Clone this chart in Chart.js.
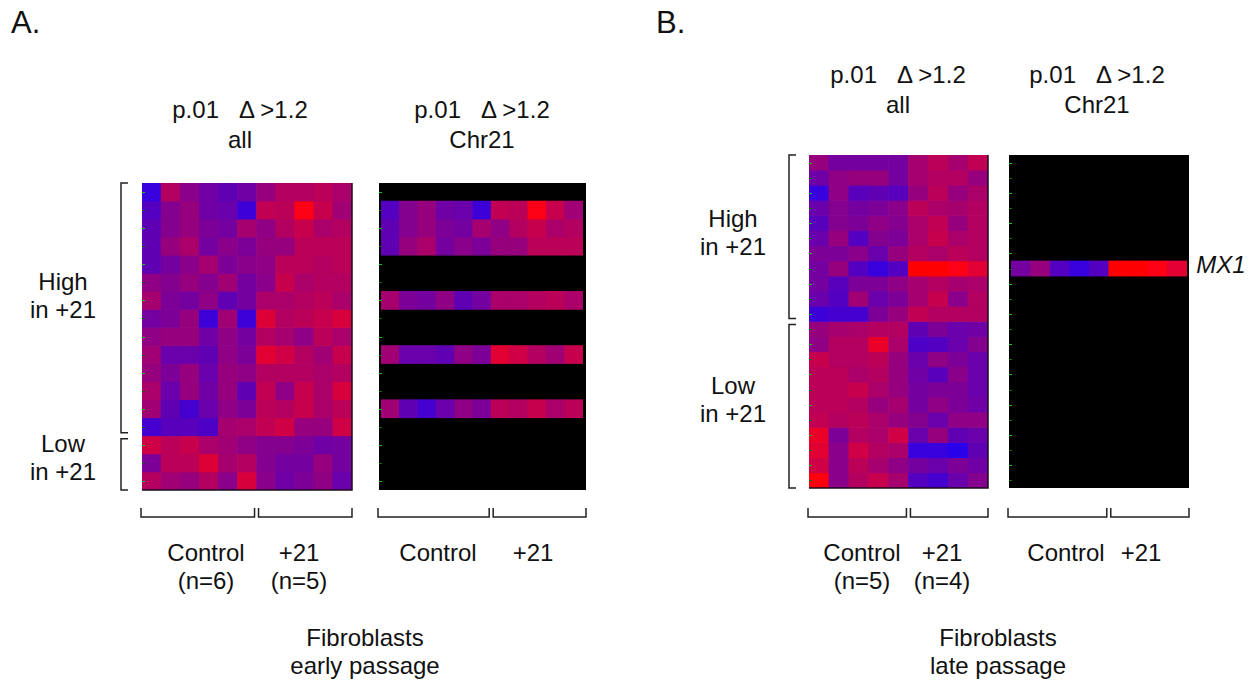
<!DOCTYPE html>
<html>
<head>
<meta charset="utf-8">
<script src="https://cdn.jsdelivr.net/npm/chart.js@4.4.1/dist/chart.umd.min.js"></script>
<style>
  body { margin: 0; background: #fff; }
  #page { position: relative; width: 1258px; height: 685px; overflow: hidden; font-family: "Liberation Sans", Arial, sans-serif; color: #111; }
  canvas { position: absolute; }
  .t { position: absolute; font-size: 24px; line-height: 30px; text-align: center; transform: translateX(-50%); white-space: pre; }
  .g { line-height: 28px; }
  .big { font-size: 31px; line-height: 34px; transform: none; }
</style>
</head>
<body>
<div id="page">
  <div class="t big" style="left:11px;top:6px">A.</div>
  <div class="t big" style="left:656px;top:6px">B.</div>

  <div class="t" style="left:240px;top:95px">p.01   Δ >1.2<br>all</div>
  <div class="t" style="left:482px;top:95px">p.01   Δ >1.2<br>Chr21</div>
  <div class="t" style="left:898px;top:60px">p.01   Δ >1.2<br>all</div>
  <div class="t" style="left:1097px;top:60px">p.01   Δ >1.2<br>Chr21</div>

  <div class="t g" style="left:63px;top:268px">High<br>in +21</div>
  <div class="t g" style="left:63px;top:430px">Low<br>in +21</div>
  <div class="t g" style="left:733px;top:205px">High<br>in +21</div>
  <div class="t g" style="left:733px;top:372px">Low<br>in +21</div>

  <div class="t g" style="left:206px;top:539px">Control<br>(n=6)</div>
  <div class="t g" style="left:299px;top:539px">+21<br>(n=5)</div>
  <div class="t g" style="left:438px;top:539px">Control</div>
  <div class="t g" style="left:533px;top:539px">+21</div>
  <div class="t g" style="left:862px;top:539px">Control<br>(n=5)</div>
  <div class="t g" style="left:942px;top:539px">+21<br>(n=4)</div>
  <div class="t g" style="left:1066px;top:539px">Control</div>
  <div class="t g" style="left:1141px;top:539px">+21</div>

  <div class="t g" style="left:365px;top:624px">Fibroblasts<br>early passage</div>
  <div class="t g" style="left:998px;top:624px">Fibroblasts<br>late passage</div>

  <div class="t" style="left:1221px;top:250px;font-style:italic">MX1</div>

  <canvas id="a1" width="265" height="360" style="left:100px;top:170px"></canvas>
  <canvas id="a2" width="235" height="360" style="left:365px;top:170px"></canvas>
  <canvas id="b1" width="230" height="390" style="left:770px;top:140px"></canvas>
  <canvas id="b2" width="205" height="390" style="left:995px;top:140px"></canvas>
</div>

<script>
// expression score per gene (row) and sample (column): 0 = lowest (blue), 1 = highest (red)
const earlyCols = ['C1', 'C2', 'C3', 'C4', 'C5', 'C6', 'T1', 'T2', 'T3', 'T4', 'T5'];
const earlyControls = 6;
const earlyHighRows = 14;
const earlyRows = [
    [0.20, 0.65, 0.50, 0.40, 0.35, 0.40, 0.55, 0.65, 0.65, 0.68, 0.62],
    [0.30, 0.48, 0.55, 0.40, 0.38, 0.22, 0.70, 0.68, 0.92, 0.72, 0.58],
    [0.35, 0.48, 0.55, 0.45, 0.42, 0.60, 0.52, 0.65, 0.72, 0.62, 0.65],
    [0.35, 0.55, 0.62, 0.42, 0.50, 0.45, 0.55, 0.55, 0.68, 0.68, 0.68],
    [0.35, 0.42, 0.50, 0.60, 0.45, 0.50, 0.52, 0.68, 0.68, 0.65, 0.68],
    [0.52, 0.48, 0.55, 0.48, 0.58, 0.42, 0.50, 0.72, 0.62, 0.65, 0.65],
    [0.60, 0.45, 0.42, 0.52, 0.35, 0.42, 0.62, 0.62, 0.65, 0.68, 0.62],
    [0.42, 0.45, 0.55, 0.22, 0.58, 0.22, 0.80, 0.65, 0.68, 0.72, 0.78],
    [0.52, 0.55, 0.55, 0.40, 0.52, 0.42, 0.65, 0.60, 0.52, 0.68, 0.62],
    [0.58, 0.38, 0.38, 0.35, 0.52, 0.45, 0.82, 0.75, 0.65, 0.58, 0.72],
    [0.55, 0.45, 0.55, 0.38, 0.55, 0.52, 0.65, 0.65, 0.65, 0.62, 0.65],
    [0.62, 0.38, 0.55, 0.40, 0.55, 0.35, 0.70, 0.52, 0.72, 0.62, 0.78],
    [0.58, 0.35, 0.25, 0.38, 0.52, 0.45, 0.68, 0.65, 0.72, 0.62, 0.68],
    [0.25, 0.32, 0.32, 0.28, 0.60, 0.62, 0.70, 0.75, 0.55, 0.55, 0.75],
    [0.75, 0.68, 0.72, 0.62, 0.58, 0.52, 0.48, 0.48, 0.45, 0.40, 0.42],
    [0.45, 0.68, 0.68, 0.80, 0.60, 0.65, 0.48, 0.42, 0.42, 0.55, 0.42],
    [0.65, 0.58, 0.55, 0.65, 0.50, 0.78, 0.50, 0.40, 0.45, 0.52, 0.38]
];
// rows of the early passage list that sit on chromosome 21
const earlyChr21 = [1, 2, 3, 6, 9, 12];

const lateCols = ['C1', 'C2', 'C3', 'C4', 'C5', 'T1', 'T2', 'T3', 'T4'];
const lateControls = 5;
const lateHighRows = 11;
const lateRows = [
    [0.55, 0.42, 0.42, 0.42, 0.42, 0.60, 0.68, 0.60, 0.70],
    [0.40, 0.52, 0.55, 0.55, 0.42, 0.60, 0.65, 0.65, 0.55],
    [0.20, 0.52, 0.32, 0.35, 0.32, 0.55, 0.68, 0.55, 0.62],
    [0.38, 0.48, 0.42, 0.45, 0.50, 0.68, 0.62, 0.60, 0.65],
    [0.32, 0.48, 0.45, 0.52, 0.48, 0.62, 0.70, 0.55, 0.65],
    [0.38, 0.55, 0.30, 0.48, 0.45, 0.62, 0.72, 0.62, 0.65],
    [0.45, 0.45, 0.50, 0.38, 0.55, 0.65, 0.62, 0.68, 0.65],
    [0.42, 0.55, 0.30, 0.20, 0.30, 1.00, 1.00, 0.92, 0.82],
    [0.42, 0.32, 0.45, 0.45, 0.52, 0.60, 0.65, 0.60, 0.62],
    [0.38, 0.30, 0.58, 0.38, 0.45, 0.60, 0.72, 0.50, 0.65],
    [0.22, 0.25, 0.25, 0.45, 0.55, 0.70, 0.65, 0.65, 0.65],
    [0.55, 0.60, 0.62, 0.65, 0.65, 0.35, 0.45, 0.38, 0.40],
    [0.52, 0.65, 0.65, 0.85, 0.62, 0.28, 0.30, 0.38, 0.48],
    [0.72, 0.65, 0.65, 0.68, 0.55, 0.38, 0.52, 0.45, 0.38],
    [0.68, 0.68, 0.62, 0.65, 0.55, 0.40, 0.32, 0.50, 0.38],
    [0.68, 0.68, 0.72, 0.62, 0.55, 0.42, 0.45, 0.45, 0.38],
    [0.68, 0.68, 0.65, 0.55, 0.60, 0.42, 0.52, 0.45, 0.40],
    [0.70, 0.65, 0.68, 0.62, 0.55, 0.48, 0.38, 0.52, 0.52],
    [0.85, 0.45, 0.65, 0.62, 0.75, 0.38, 0.55, 0.35, 0.38],
    [0.82, 0.50, 0.75, 0.65, 0.62, 0.20, 0.20, 0.15, 0.35],
    [0.75, 0.50, 0.68, 0.60, 0.52, 0.42, 0.38, 0.45, 0.40],
    [0.95, 0.50, 0.65, 0.72, 0.60, 0.30, 0.25, 0.38, 0.48]
];
// MX1 is the only chromosome 21 gene in the late passage list
const lateChr21 = [7];

// blue -> purple -> red
function heatColor(v) {
    const k = 1.08;
    const r = Math.min(255, Math.round(255 * v * k));
    const b = Math.min(255, Math.round(255 * (1 - v) * k));
    return `rgb(${r},0,${b})`;
}

// brackets, black box and the small green row marks
const framePlugin = {
    id: 'frame',
    beforeDatasetsDraw(chart, args, opts) {
        const a = chart.chartArea;
        const ctx = chart.ctx;
        if (opts.black) {
            ctx.save();
            ctx.fillStyle = '#000';
            ctx.fillRect(a.left - opts.boxL, a.top, a.right - a.left + opts.boxL + opts.boxR, a.bottom - a.top);
            ctx.restore();
        }
    },
    afterDatasetsDraw(chart, args, opts) {
        const a = chart.chartArea;
        const ctx = chart.ctx;
        const x = chart.scales.x;
        const y = chart.scales.y;
        const n = chart.data.labels.length;
        const w = (a.right - a.left) / n;
        ctx.save();

        // row marks on the left edge
        for (let i = 0; i < opts.rows; i++) {
            ctx.strokeStyle = i % 2 ? '#0b6a0b' : '#18c018';
            ctx.lineWidth = 1;
            const py = Math.round(y.getPixelForValue(i + 0.5)) + 0.5;
            ctx.beginPath();
            ctx.moveTo(a.left - opts.boxL, py);
            ctx.lineTo(a.left - opts.boxL + 3, py);
            ctx.stroke();
        }

        if (!opts.black) {
            ctx.strokeStyle = '#1a0a1a';
            ctx.lineWidth = 1.5;
            ctx.beginPath();
            ctx.moveTo(a.right, a.top);
            ctx.lineTo(a.right, a.bottom);
            ctx.lineTo(a.left, a.bottom);
            ctx.stroke();
        }

        ctx.strokeStyle = '#222';
        ctx.lineWidth = 1.5;

        // group brackets under the columns
        const split = x.getPixelForValue(opts.controls) - w / 2;
        const by = a.bottom + opts.bracketGap;
        const groups = [[a.left - opts.boxL - 1, split - 2], [split + 2, a.right + opts.boxR]];
        groups.forEach(g => {
            ctx.beginPath();
            ctx.moveTo(g[0], by - 9);
            ctx.lineTo(g[0], by);
            ctx.lineTo(g[1], by);
            ctx.lineTo(g[1], by - 9);
            ctx.stroke();
        });

        // high / low brackets beside the rows
        if (opts.highRows) {
            const bx = a.left - opts.sideGap;
            const mid = y.getPixelForValue(opts.highRows);
            const parts = [[a.top, mid - 3], [mid + 3, a.bottom]];
            parts.forEach(p => {
                ctx.beginPath();
                ctx.moveTo(bx + 7, p[0]);
                ctx.lineTo(bx, p[0]);
                ctx.lineTo(bx, p[1]);
                ctx.lineTo(bx + 7, p[1]);
                ctx.stroke();
            });
        }
        ctx.restore();
    }
};

function makeHeatmap(id, cols, rows, shown, frame, padding) {
    const datasets = shown.map(r => ({
        label: 'row ' + r,
        data: rows[r].map(() => [r, r + 1]),
        backgroundColor: rows[r].map(v => heatColor(v)),
        borderWidth: 0,
        grouped: false,
        barPercentage: 1,
        categoryPercentage: 1
    }));

    return new Chart(document.getElementById(id), {
        type: 'bar',
        data: { labels: cols, datasets: datasets },
        options: {
            responsive: false,
            animation: false,
            devicePixelRatio: 1,
            layout: { padding: padding },
            plugins: {
                legend: { display: false },
                tooltip: { enabled: false },
                frame: frame
            },
            scales: {
                x: { display: false },
                y: { display: false, reverse: true, min: 0, max: rows.length }
            }
        },
        plugins: [framePlugin]
    });
}

const allEarly = earlyRows.map((r, i) => i);
const allLate = lateRows.map((r, i) => i);

makeHeatmap('a1', earlyCols, earlyRows, allEarly,
    { rows: earlyRows.length, controls: earlyControls, highRows: earlyHighRows, black: false, boxL: 0, boxR: 0, bracketGap: 27, sideGap: 21 },
    { left: 42, top: 13, right: 13, bottom: 40 });

makeHeatmap('a2', earlyCols, earlyRows, earlyChr21,
    { rows: earlyRows.length, controls: earlyControls, highRows: 0, black: true, boxL: 2, boxR: 3, bracketGap: 27, sideGap: 0 },
    { left: 16, top: 13, right: 17, bottom: 40 });

makeHeatmap('b1', lateCols, lateRows, allLate,
    { rows: lateRows.length, controls: lateControls, highRows: lateHighRows, black: false, boxL: 0, boxR: 0, bracketGap: 29, sideGap: 20 },
    { left: 39, top: 15, right: 12, bottom: 42 });

makeHeatmap('b2', lateCols, lateRows, lateChr21,
    { rows: lateRows.length, controls: lateControls, highRows: 0, black: true, boxL: 2, boxR: 2, bracketGap: 29, sideGap: 0 },
    { left: 16, top: 15, right: 13, bottom: 42 });
</script>
</body>
</html>
